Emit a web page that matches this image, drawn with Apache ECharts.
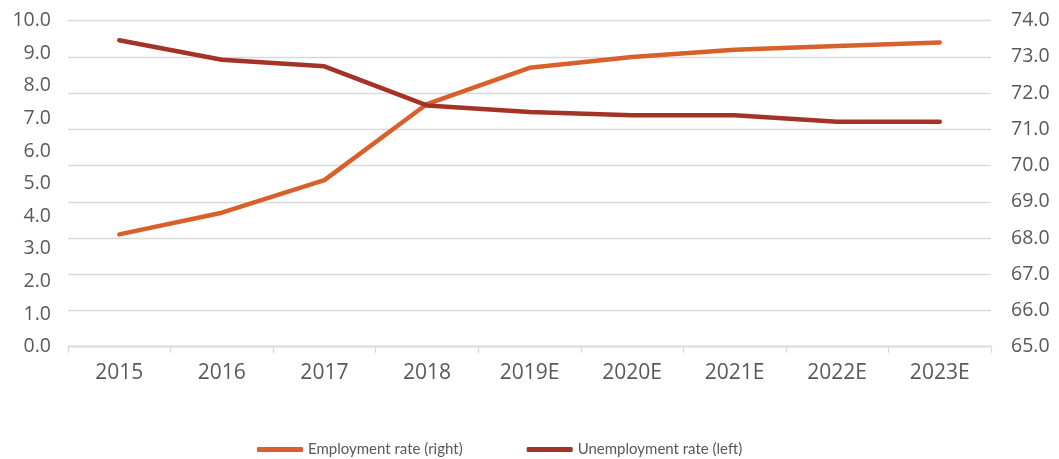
<!DOCTYPE html>
<html>
<head>
<meta charset="utf-8">
<style>
  html, body { margin: 0; padding: 0; background: #ffffff; }
  #chart { width: 1059px; height: 459px; }
</style>
<script src="https://cdn.jsdelivr.net/npm/echarts@6/dist/echarts.min.js"></script>
</head>
<body>
<div id="chart"></div>
<script>
// Years shown on the category axis
const years = ['2015', '2016', '2017', '2018', '2019E', '2020E', '2021E', '2022E', '2023E'];

// Employment rate, % (right axis)
const employmentRate = [68.1, 68.7, 69.6, 71.7, 72.7, 73.0, 73.2, 73.3, 73.4];

// Unemployment rate, % (left axis)
const unemploymentRate = [9.4, 8.8, 8.6, 7.4, 7.2, 7.1, 7.1, 6.9, 6.9];

// Axis ranges
const leftAxisRange = { min: 0, max: 10, step: 1 };
const rightAxisRange = { min: 65, max: 74, step: 1 };

const seriesNames = ['Employment rate (right)', 'Unemployment rate (left)'];
const titleText = 'Unemployment and employment rates (%)';

const ORANGE = '#D9602A';
const RED = '#A33326';
const GRID = '#D9D9D9';
const LABEL = '#595959';

const chart = echarts.init(document.getElementById('chart'), null, { renderer: 'canvas' });

const fmt = v => Number(v).toFixed(1);

chart.setOption({
  animation: false,
  backgroundColor: '#ffffff',
  // Heading sits mostly above the top edge; only its lower part shows
  graphic: [
    {
      type: 'text',
      x: -34,
      y: 0,
      silent: true,
      style: {
        text: titleText,
        font: 'bold 32px "Liberation Serif"',
        fill: '#111111',
        verticalAlign: 'bottom',
        align: 'left'
      }
    }
  ],
  grid: {
    left: 68,
    right: 68,
    top: 20.7,
    bottom: 112.3,
    containLabel: false
  },
  legend: {
    data: seriesNames,
    left: 252,
    top: 437,
    icon: 'roundRect',
    itemWidth: 46,
    itemHeight: 5,
    itemGap: 64,
    textStyle: {
      fontFamily: 'Lato',
      fontSize: 15,
      color: LABEL
    }
  },
  xAxis: {
    type: 'category',
    data: years,
    boundaryGap: true,
    axisLine: { show: true, lineStyle: { color: GRID, width: 1.3 } },
    axisTick: { show: true, length: 6, lineStyle: { color: GRID, width: 1.3 } },
    axisLabel: {
      margin: 16,
      fontFamily: 'Open Sans',
      fontSize: 21,
      color: LABEL
    },
    splitLine: { show: false }
  },
  yAxis: [
    {
      type: 'value',
      position: 'left',
      min: leftAxisRange.min,
      max: leftAxisRange.max,
      interval: leftAxisRange.step,
      axisLine: { show: false },
      axisTick: { show: false },
      splitLine: { show: false },
      axisLabel: {
        margin: 17,
        formatter: fmt,
        fontFamily: 'Open Sans',
        fontSize: 19.5,
        color: LABEL
      }
    },
    {
      type: 'value',
      position: 'right',
      min: rightAxisRange.min,
      max: rightAxisRange.max,
      interval: rightAxisRange.step,
      axisLine: { show: false },
      axisTick: { show: false },
      splitLine: { show: true, lineStyle: { color: GRID, width: 1.3 } },
      axisLabel: {
        margin: 20,
        formatter: fmt,
        fontFamily: 'Open Sans',
        fontSize: 19.5,
        color: LABEL
      }
    }
  ],
  series: [
    {
      name: seriesNames[0],
      type: 'line',
      yAxisIndex: 1,
      data: employmentRate,
      symbol: 'none',
      smooth: false,
      itemStyle: { color: ORANGE },
      lineStyle: { color: ORANGE, width: 4.5, cap: 'round', join: 'round' }
    },
    {
      name: seriesNames[1],
      type: 'line',
      yAxisIndex: 0,
      data: unemploymentRate,
      symbol: 'none',
      smooth: false,
      itemStyle: { color: RED },
      lineStyle: { color: RED, width: 4.5, cap: 'round', join: 'round' }
    }
  ]
});
</script>
</body>
</html>
